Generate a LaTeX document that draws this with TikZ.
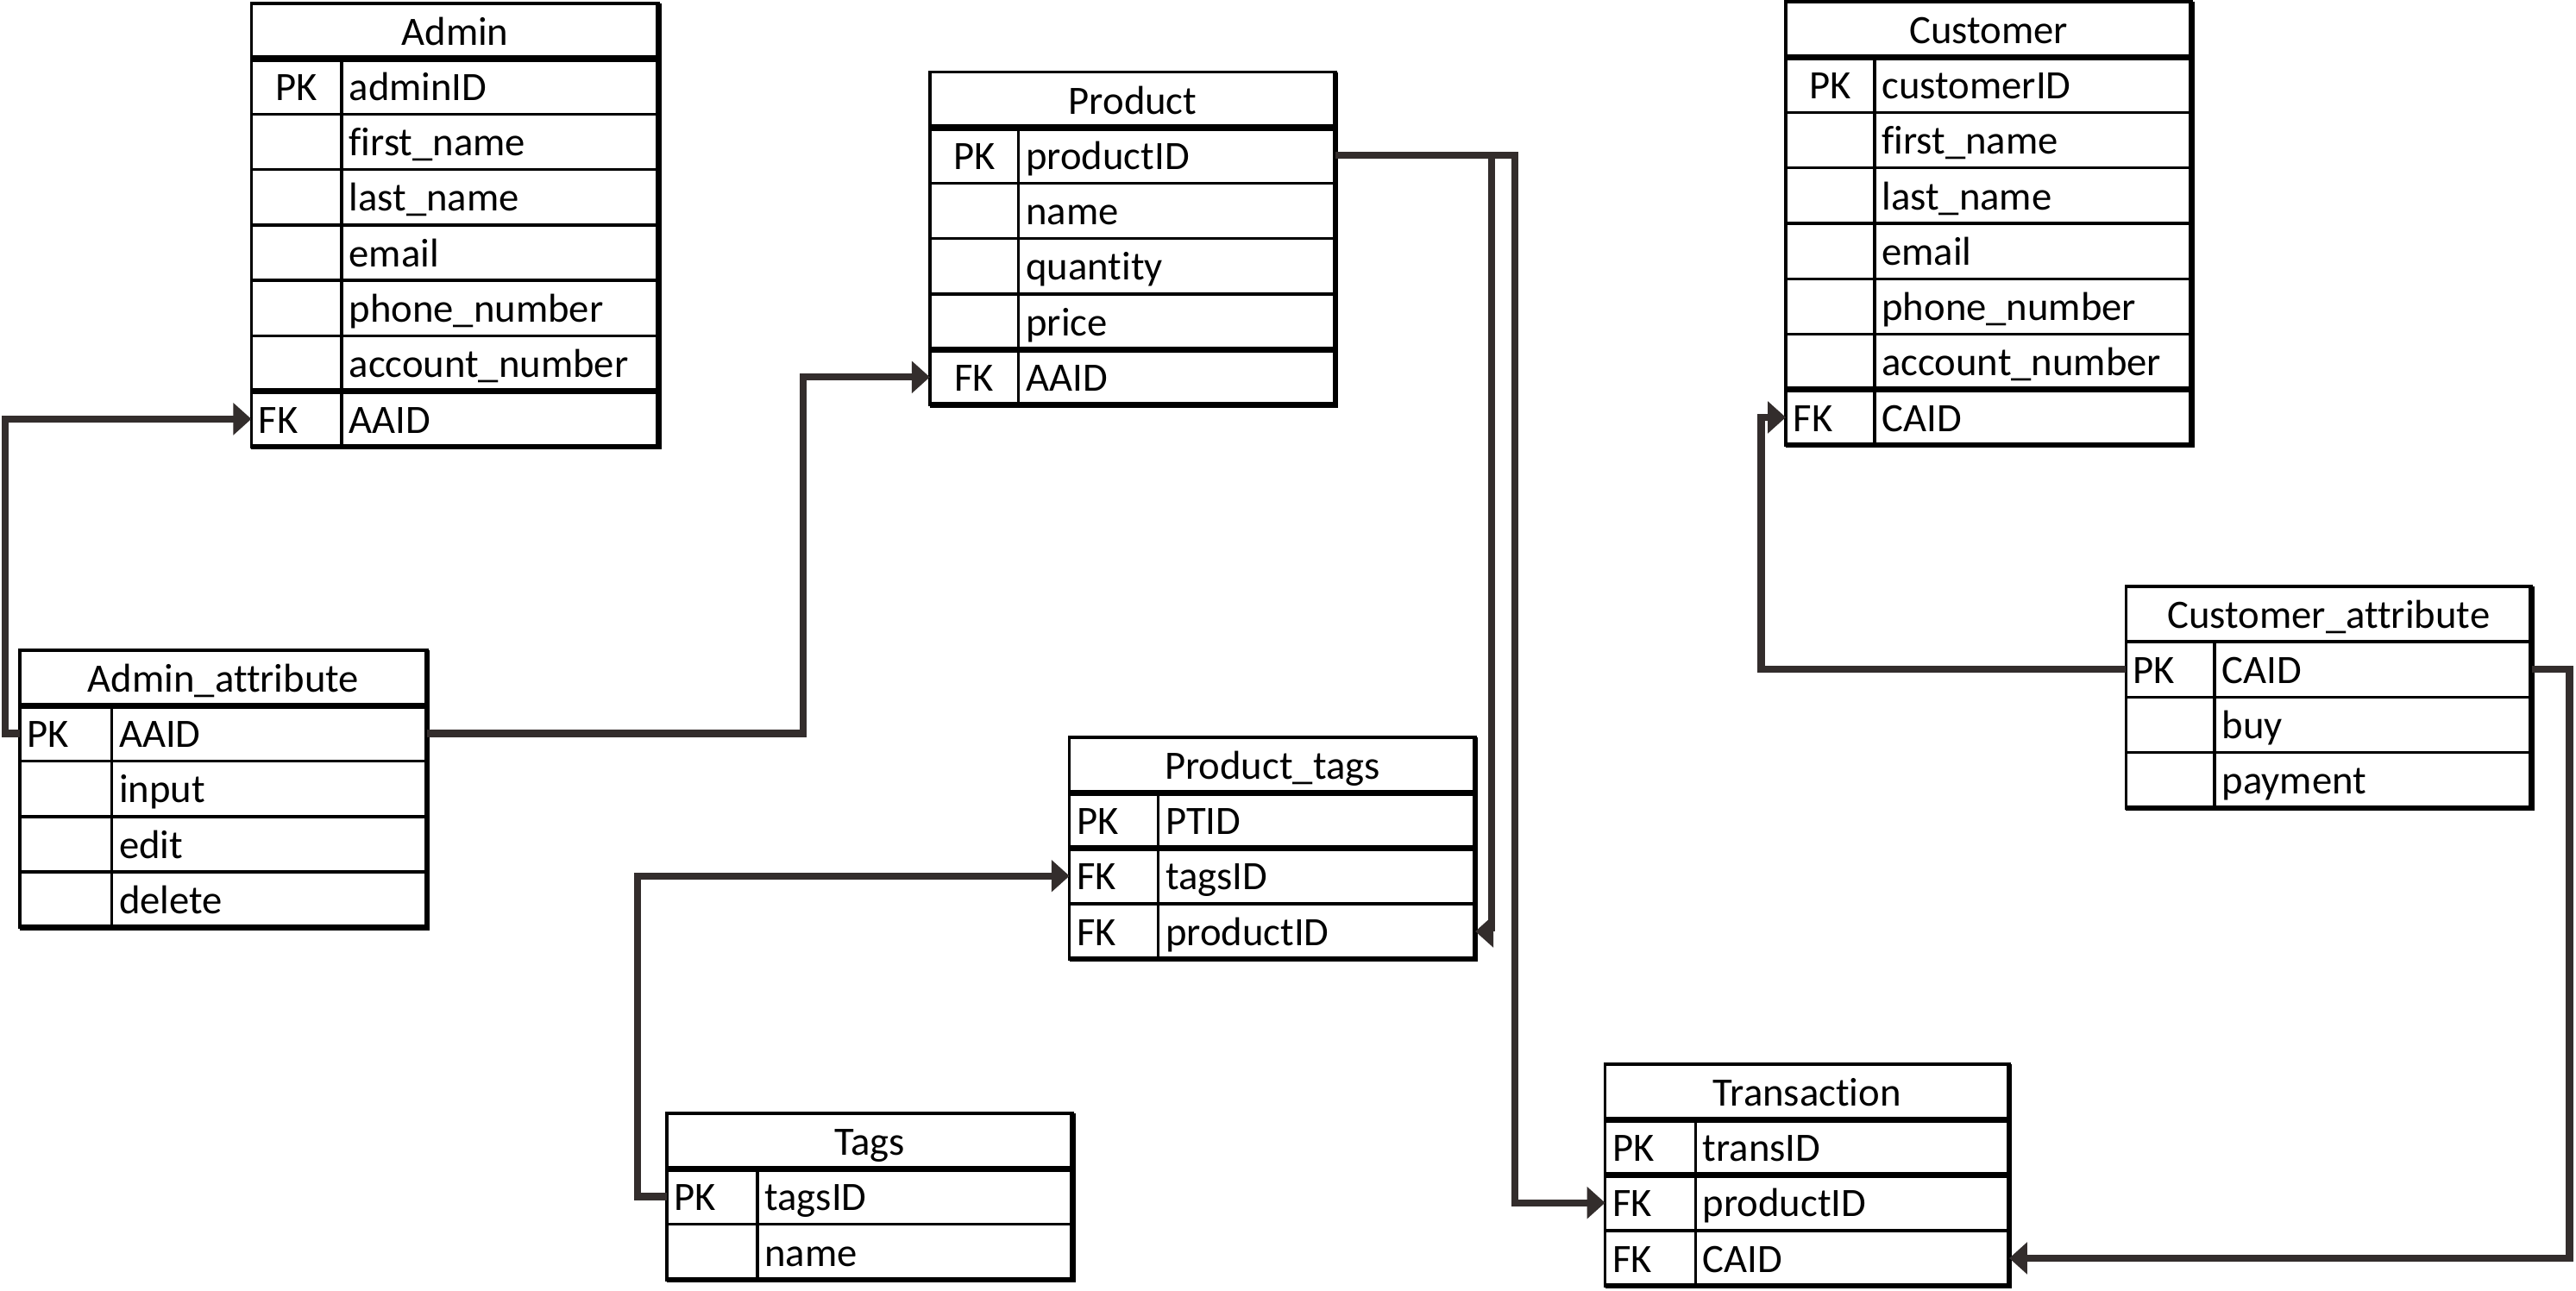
\documentclass[tikz,border=0pt]{standalone}
\usepackage{fontspec}
\setmainfont{Carlito}[Ligatures=NoCommon]
\usetikzlibrary{arrows.meta,calc}

\definecolor{connclr}{RGB}{51,45,44}
\def\rh{33.75}

\tikzset{
  x=1pt, y=-1pt,
  cell/.style={draw=black, line width=1.8pt, rectangle, inner sep=0pt, outer sep=0pt, anchor=north west},
  celltext/.style={inner sep=0pt, outer sep=0pt, text height=19pt, text depth=2pt,
    font=\fontsize{24.5}{29}\selectfont},
  fieldtext/.style={celltext, anchor=west, xshift=4.5pt},
  keyl/.style={celltext, anchor=west, xshift=4.5pt},
  keyc/.style={celltext, anchor=center, xshift={\kw/2}},
  thicksep/.style={draw=black, line width=3.8pt},
  outerline/.style={draw=black, line width=3.4pt},
  divline/.style={draw=black, line width=1.8pt},
  conn/.style={draw=connclr, line width=4.4pt, line join=miter,
    -{Triangle[length=11pt,width=19pt]}},
}

% #1 id, #2 left, #3 right, #4 key divider, #5 top, #6 title,
% #7 rows key/field/alignment, #8 rows whose top edge is a thick rule
\newcommand{\ertab}[8]{%
  \pgfmathsetmacro{\tw}{#3-#2}%
  \pgfmathsetmacro{\kw}{#4-#2}%
  \node[cell, minimum width=\tw pt, minimum height=\rh pt] (#1-0) at (#2,#5) {};
  \node[celltext] (#1-t) at (#1-0.center) {#6};
  \foreach [count=\i] \k/\f/\a in {#7} {
    \node[cell, minimum width=\tw pt, minimum height=\rh pt] (#1-\i) at (#2,{#5+\i*\rh}) {};
    \node[key\a] (#1-k\i) at (#2,{#5+(\i+0.5)*\rh}) {\k};
    \node[fieldtext] (#1-f\i) at (#4,{#5+(\i+0.5)*\rh}) {\f};
    \xdef\nrows{\i}
  }
  \draw[divline] (#4,{#5+\rh}) -- (#4,{#5+(\nrows+1)*\rh});
  \def\seplist{#8}%
  \ifx\seplist\empty\else
    \foreach \j in {#8} { \draw[thicksep] (#1-\j.north west) -- (#1-\j.north east); }
  \fi
  \draw[outerline] (#1-0.north east) -- (#1-\nrows.south east) -- (#1-\nrows.south west);
}

\begin{document}
\begin{tikzpicture}
\useasboundingbox (0,0) rectangle (1568,786);

% tables
\ertab{adm}{153}{401}{208}{2}{Admin}
  {PK/adminID/c, /first\_name/l, /last\_name/l, /email/l, /phone\_number/l, /account\_number/l, FK/AAID/l}{1,7}
\ertab{prd}{566}{813}{620}{44}{Product}
  {PK/productID/c, /name/l, /quantity/l, /price/l, FK/AAID/c}{1,5}
\ertab{cus}{1087}{1334}{1141}{1}{Customer}
  {PK/customerID/c, /first\_name/l, /last\_name/l, /email/l, /phone\_number/l, /account\_number/l, FK/CAID/l}{1,7}
\ertab{aat}{12}{260}{68}{396}{Admin\_attribute}
  {PK/AAID/l, /input/l, /edit/l, /delete/l}{1}
\ertab{pt}{651}{898}{705}{449}{Product\_tags}
  {PK/PTID/l, FK/tagsID/l, FK/productID/l}{1,2}
\ertab{tag}{406}{653}{461}{678}{Tags}
  {PK/tagsID/l, /name/l}{1}
\ertab{cat}{1294}{1541}{1348}{357}{Customer\_attribute}
  {PK/CAID/l, /buy/l, /payment/l}{}
\ertab{trn}{977}{1223}{1032}{648}{Transaction}
  {PK/transID/l, FK/productID/l, FK/CAID/l}{1,2}

% bend columns of the connectors
\coordinate (b1) at (3,0);
\coordinate (b2) at (489,0);
\coordinate (b3i) at (908,0);
\coordinate (b3o) at (922,0);
\coordinate (b5) at (388,0);
\coordinate (b6) at (1072,0);
\coordinate (b7) at (1564,0);

% relationships
\draw[conn] (aat-1.west) -| (b1 |- adm-7.west) -- (adm-7.west);
\draw[conn] (aat-1.east) -| (b2 |- prd-5.west) -- (prd-5.west);
\draw[conn] (prd-1.east) -| (b3o |- trn-2.west) -- (trn-2.west);
\draw[conn] (prd-1.east) -| (b3i |- pt-3.east) -- (pt-3.east);
\draw[conn] (tag-1.west) -| (b5 |- pt-2.west) -- (pt-2.west);
\draw[conn] (cat-1.west) -| (b6 |- cus-7.west) -- (cus-7.west);
\draw[conn] (cat-1.east) -| (b7 |- trn-3.east) -- (trn-3.east);
\end{tikzpicture}
\end{document}
